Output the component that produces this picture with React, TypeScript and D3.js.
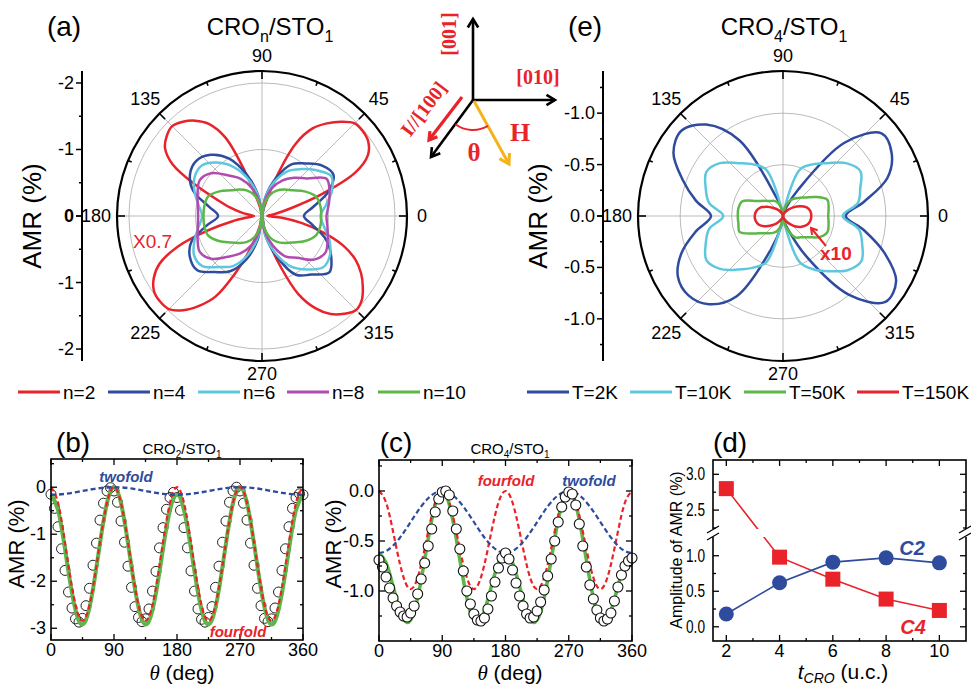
import React, { useRef, useEffect } from 'react';
import * as d3 from 'd3';

const RED = '#e8232a';
const NAVY = '#2f4b9d';
const CYAN = '#5ec7dd';
const PURPLE = '#b04cb0';
const GREEN = '#5db748';
const ORANGE = '#f6b319';
const GRID = '#a9a9a9';
const SANS = 'Arial, "Liberation Sans", Helvetica, sans-serif';
const SERIF = '"Times New Roman", "Liberation Serif", Times, serif';

// sampling grids (deg)
const angles10 = d3.range(0, 360, 10);
const angles5 = d3.range(0, 360, 5);
const theta5 = d3.range(0, 365, 5);
const theta10 = d3.range(0, 370, 10);

// (a) CRO_n/STO_1, |AMR| (%) vs angle
const ampN2 = [ // x0.7, 5 deg steps
  0.08, 0.12, 0.22, 0.45, 0.95, 1.55, 1.84, 1.95, 1.98, 1.97, 1.85, 1.70, 1.52, 1.20, 0.60, 0.18, 0.07, 0.03,
  0.00, 0.03, 0.08, 0.20, 0.60, 1.30, 1.60, 1.75, 1.85, 1.91, 1.87, 1.78, 1.55, 1.10, 0.72, 0.50, 0.32, 0.18,
  0.12, 0.20, 0.45, 0.85, 1.35, 1.70, 1.88, 1.98, 2.00, 1.98, 1.85, 1.65, 1.40, 0.95, 0.55, 0.25, 0.10, 0.04,
  0.00, 0.05, 0.15, 0.40, 0.80, 1.30, 1.60, 1.80, 1.92, 2.00, 1.96, 1.85, 1.72, 1.55, 1.30, 0.95, 0.60, 0.30,
];
const ampN4 = [
  0.63, 0.78, 1.06, 1.24, 1.18, 1.03, 0.90, 0.60, 0.28, 0.00, 0.30, 0.65, 1.00, 1.20, 1.29, 1.25, 1.10, 0.81,
  0.66, 0.85, 1.13, 1.25, 1.27, 1.10, 0.96, 0.70, 0.35, 0.00, 0.30, 0.65, 1.02, 1.15, 1.32, 1.20, 1.02, 0.77,
];
const ampN6 = [
  0.88, 0.98, 1.12, 1.20, 1.07, 0.92, 0.78, 0.55, 0.27, 0.00, 0.28, 0.58, 0.85, 1.05, 1.18, 1.17, 1.08, 0.97,
  0.90, 0.97, 1.08, 1.18, 1.17, 1.00, 0.87, 0.62, 0.30, 0.00, 0.30, 0.60, 0.88, 1.05, 1.20, 1.18, 1.08, 0.95,
];
const ampN8 = [
  0.97, 1.02, 1.08, 1.12, 0.88, 0.75, 0.62, 0.45, 0.22, 0.00, 0.22, 0.45, 0.65, 0.80, 1.00, 1.08, 1.03, 0.98,
  0.96, 0.98, 1.03, 1.08, 1.00, 0.80, 0.65, 0.47, 0.23, 0.00, 0.23, 0.47, 0.70, 0.82, 1.02, 1.10, 1.05, 1.00,
];
const ampN10 = [
  0.89, 0.89, 0.86, 0.74, 0.60, 0.52, 0.44, 0.33, 0.17, 0.00, 0.17, 0.33, 0.44, 0.52, 0.60, 0.74, 0.86, 0.88,
  0.88, 0.88, 0.86, 0.75, 0.62, 0.53, 0.45, 0.34, 0.17, 0.00, 0.17, 0.34, 0.45, 0.53, 0.62, 0.75, 0.86, 0.89,
];
const legendA = ['n=2', 'n=4', 'n=6', 'n=8', 'n=10'];

// (e) CRO_4/STO_1 at several temperatures
const ampT2 = [
  0.61, 0.80, 1.08, 1.22, 1.25, 0.93, 0.30, 0.09, 0.03, 0.00, 0.06, 0.20, 0.85, 1.16, 1.29, 1.23, 1.04, 0.86,
  0.70, 0.86, 1.05, 1.18, 1.20, 1.12, 0.90, 0.35, 0.10, 0.00, 0.04, 0.13, 0.45, 1.00, 1.30, 1.27, 1.05, 0.80,
];
const ampT10 = [
  0.58, 0.74, 0.80, 0.87, 0.80, 0.67, 0.58, 0.48, 0.07, 0.00, 0.07, 0.48, 0.58, 0.67, 0.80, 0.86, 0.80, 0.73,
  0.58, 0.73, 0.80, 0.86, 0.80, 0.68, 0.58, 0.48, 0.07, 0.00, 0.07, 0.48, 0.60, 0.70, 0.82, 0.88, 0.82, 0.75,
];
const ampT50 = [
  0.44, 0.45, 0.46, 0.37, 0.28, 0.23, 0.19, 0.14, 0.07, 0.00, 0.06, 0.13, 0.17, 0.19, 0.23, 0.29, 0.42, 0.44,
  0.44, 0.44, 0.45, 0.34, 0.26, 0.22, 0.19, 0.15, 0.07, 0.00, 0.07, 0.15, 0.24, 0.27, 0.32, 0.41, 0.46, 0.45,
];
const ampT150 = [ // x10
  0.275, 0.27, 0.245, 0.19, 0.13, 0.08, 0.05, 0.025, 0.01, 0.00, 0.01, 0.025, 0.05, 0.08, 0.12, 0.18, 0.235, 0.265,
  0.275, 0.27, 0.25, 0.20, 0.14, 0.09, 0.05, 0.025, 0.01, 0.00, 0.01, 0.03, 0.06, 0.10, 0.16, 0.21, 0.25, 0.27,
];
const legendE = ['T=2K', 'T=10K', 'T=50K', 'T=150K'];

// (b) CRO2/STO1 AMR(theta), data every 5 deg, fits every 10 deg
const amrB = [
  -0.15, -0.45, -0.84, -1.31, -1.77, -2.23, -2.57, -2.80, -2.87, -2.79, -2.52, -2.15, -1.66, -1.19, -0.70, -0.34, -0.08, -0.01,
  -0.08, -0.32, -0.72, -1.17, -1.68, -2.13, -2.54, -2.77, -2.86, -2.80, -2.59, -2.21, -1.79, -1.29, -0.86, -0.47, -0.22, -0.11,
  -0.22, -0.49, -0.86, -1.29, -1.78, -2.21, -2.59, -2.81, -2.87, -2.77, -2.54, -2.13, -1.68, -1.17, -0.72, -0.32, -0.08, 0.00,
  -0.08, -0.34, -0.70, -1.19, -1.66, -2.15, -2.52, -2.79, -2.86, -2.80, -2.57, -2.23, -1.77, -1.31, -0.84, -0.45, -0.22, -0.14,
  -0.16,
];
const twofoldB = [
  -0.16, -0.155, -0.141, -0.12, -0.094, -0.066, -0.04, -0.019, -0.005, 0, -0.005, -0.019, -0.04, -0.066, -0.094, -0.12, -0.141, -0.155,
  -0.16, -0.155, -0.141, -0.12, -0.094, -0.066, -0.04, -0.019, -0.005, 0, -0.005, -0.019, -0.04, -0.066, -0.094, -0.12, -0.141, -0.155, -0.16,
];
const fourfoldB = [
  0, -0.332, -1.173, -2.13, -2.755, -2.755, -2.13, -1.173, -0.332, 0, -0.332, -1.173, -2.13, -2.755, -2.755, -2.13, -1.173, -0.332,
  0, -0.332, -1.173, -2.13, -2.755, -2.755, -2.13, -1.173, -0.332, 0, -0.332, -1.173, -2.13, -2.755, -2.755, -2.13, -1.173, -0.332, 0,
];
const fitB = [
  -0.16, -0.487, -1.314, -2.25, -2.849, -2.821, -2.17, -1.192, -0.337, 0, -0.337, -1.192, -2.17, -2.821, -2.849, -2.25, -1.314, -0.487,
  -0.16, -0.487, -1.314, -2.25, -2.849, -2.821, -2.17, -1.192, -0.337, 0, -0.337, -1.192, -2.17, -2.821, -2.849, -2.25, -1.314, -0.487, -0.16,
];

// (c) CRO4/STO1
const amrC = [
  -0.69, -0.76, -0.86, -0.97, -1.07, -1.15, -1.21, -1.25, -1.26, -1.22, -1.15, -1.03, -0.88, -0.72, -0.55, -0.38, -0.21, -0.08,
  -0.01, 0.00, -0.04, -0.20, -0.38, -0.58, -0.80, -1.00, -1.13, -1.23, -1.29, -1.30, -1.27, -1.18, -1.05, -0.91, -0.77, -0.67,
  -0.62, -0.68, -0.79, -0.92, -1.05, -1.15, -1.23, -1.27, -1.26, -1.20, -1.11, -0.99, -0.85, -0.68, -0.50, -0.31, -0.16, -0.06,
  -0.01, -0.03, -0.14, -0.33, -0.55, -0.76, -0.94, -1.08, -1.19, -1.27, -1.30, -1.28, -1.22, -1.10, -0.96, -0.84, -0.75, -0.70,
  -0.67,
];
const twofoldC = [
  -0.62, -0.601, -0.547, -0.465, -0.364, -0.256, -0.155, -0.073, -0.019, 0, -0.019, -0.073, -0.155, -0.256, -0.364, -0.465, -0.547, -0.601,
  -0.62, -0.601, -0.547, -0.465, -0.364, -0.256, -0.155, -0.073, -0.019, 0, -0.019, -0.073, -0.155, -0.256, -0.364, -0.465, -0.547, -0.601, -0.62,
];
const fourfoldC = [
  0, -0.115, -0.405, -0.735, -0.951, -0.951, -0.735, -0.405, -0.115, 0, -0.115, -0.405, -0.735, -0.951, -0.951, -0.735, -0.405, -0.115,
  0, -0.115, -0.405, -0.735, -0.951, -0.951, -0.735, -0.405, -0.115, 0, -0.115, -0.405, -0.735, -0.951, -0.951, -0.735, -0.405, -0.115, 0,
];
const fitC = [
  -0.62, -0.716, -0.952, -1.20, -1.315, -1.207, -0.89, -0.478, -0.134, 0, -0.134, -0.478, -0.89, -1.207, -1.315, -1.20, -0.952, -0.716,
  -0.62, -0.716, -0.952, -1.20, -1.315, -1.207, -0.89, -0.478, -0.134, 0, -0.134, -0.478, -0.89, -1.207, -1.315, -1.20, -0.952, -0.716, -0.62,
];

// (d) amplitudes vs thickness
const tCRO = [2, 4, 6, 8, 10];
const c2Amp = [0.18, 0.62, 0.91, 0.97, 0.90];
const c4Amp = [2.80, 0.98, 0.67, 0.39, 0.23];

type G = d3.Selection<SVGGElement, unknown, null, undefined>;

const txt = (g: any, x: number, y: number, s: string, size: number, anchor = 'middle', extra: any = {}) => {
  const t = g.append('text').attr('x', x).attr('y', y).attr('font-family', SANS)
    .attr('font-size', size).attr('text-anchor', anchor).text(s);
  Object.entries(extra).forEach(([k, v]) => t.attr(k, v as any));
  return t;
};

function polar(root: G, cfg: any) {
  const { cx, cy, R, max, grid, axisX, major, minor, fmt, series, labR } = cfg;
  const r = d3.scaleLinear().domain([0, max]).range([0, R]);
  const g = root.append('g').attr('transform', `translate(${cx},${cy})`);
  grid.forEach((v: number) => g.append('circle').attr('r', r(v)).attr('fill', 'none').attr('stroke', GRID).attr('stroke-width', 0.8));
  d3.range(0, 360, 45).forEach(a => {
    const t = (a * Math.PI) / 180;
    g.append('line').attr('x1', 0).attr('y1', 0).attr('x2', R * Math.cos(t)).attr('y2', -R * Math.sin(t))
      .attr('stroke', GRID).attr('stroke-width', 0.8);
  });
  series.forEach((s: any) => {
    const line = d3.lineRadial<[number, number]>()
      .angle(d => Math.PI / 2 - (d[0] * Math.PI) / 180)
      .radius(d => r(d[1]))
      .curve(d3.curveCatmullRomClosed.alpha(0.5));
    g.append('path').attr('d', line(s.angles.map((a: number, i: number) => [a, s.values[i]])) as string)
      .attr('fill', 'none').attr('stroke', s.color).attr('stroke-width', 2.5).attr('stroke-linejoin', 'round');
  });
  g.append('circle').attr('r', R).attr('fill', 'none').attr('stroke', '#000').attr('stroke-width', 2.2);
  d3.range(0, 360, 22.5).forEach(a => {
    const t = (a * Math.PI) / 180;
    const len = a % 45 === 0 ? 8 : 4;
    g.append('line').attr('x1', (R - len) * Math.cos(t)).attr('y1', -(R - len) * Math.sin(t))
      .attr('x2', R * Math.cos(t)).attr('y2', -R * Math.sin(t)).attr('stroke', '#000').attr('stroke-width', 1.6);
  });
  d3.range(0, 360, 45).forEach(a => {
    const t = (a * Math.PI) / 180;
    let lr = a % 90 === 0 ? labR : labR + 5;
    if (a === 180) lr = labR + 6;
    if (a === 270) lr = labR - 2;
    txt(g, lr * Math.cos(t), -lr * Math.sin(t) + 6, String(a), 18);
  });
  // radial axis
  const ax = root.append('g');
  ax.append('line').attr('x1', axisX).attr('x2', axisX).attr('y1', cy - R).attr('y2', cy + R).attr('stroke', '#000').attr('stroke-width', 2);
  [...major.map((v: number) => [v, 6]), ...minor.map((v: number) => [v, 3])].forEach(([v, len]: number[]) => {
    [1, -1].forEach(sg => {
      const y = cy - sg * r(v);
      ax.append('line').attr('x1', axisX - len).attr('x2', axisX).attr('y1', y).attr('y2', y).attr('stroke', '#000').attr('stroke-width', 1.5);
    });
  });
  major.forEach((v: number) => {
    [1, -1].forEach(sg => {
      if (v === 0 && sg === -1) return;
      const t = txt(ax, axisX - 8, cy - sg * r(v) + 6, fmt(v), 18, 'end');
      if (v === 0 && cfg.boldZero) t.attr('font-weight', 'bold');
    });
  });
}

function legendRow(root: G, items: string[], colors: string[], xs: number[], y: number) {
  items.forEach((s, i) => {
    root.append('line').attr('x1', xs[i]).attr('x2', xs[i] + 42).attr('y1', y).attr('y2', y)
      .attr('stroke', colors[i]).attr('stroke-width', 3);
    txt(root, xs[i] + 45, y + 7, s, 19, 'start');
  });
}

function frame(root: G, x: any, y: any, xMaj: number[], xMin: number[], yMaj: number[], yMin: number[], fmt: (v: number) => string) {
  const [x0, x1] = x.range();
  const [y0, y1] = y.range();
  root.append('rect').attr('x', x0).attr('y', y1).attr('width', x1 - x0).attr('height', y0 - y1)
    .attr('fill', 'none').attr('stroke', '#000').attr('stroke-width', 1.6);
  const tk = (x1_: number, y1_: number, x2_: number, y2_: number) =>
    root.append('line').attr('x1', x1_).attr('y1', y1_).attr('x2', x2_).attr('y2', y2_).attr('stroke', '#000').attr('stroke-width', 1.3);
  [...xMaj.map(v => [v, 6]), ...xMin.map(v => [v, 3])].forEach(([v, l]) => {
    tk(x(v), y0, x(v), y0 - l); tk(x(v), y1, x(v), y1 + l);
  });
  [...yMaj.map(v => [v, 6]), ...yMin.map(v => [v, 3])].forEach(([v, l]) => {
    tk(x0, y(v), x0 + l, y(v)); tk(x1, y(v), x1 - l, y(v));
  });
  xMaj.forEach(v => txt(root, x(v), y0 + 16, String(v), 18));
  yMaj.forEach(v => txt(root, x0 - 5, y(v) + 6, fmt(v), 18, 'end'));
}

function sub(root: G, x: number, y: number, parts: [string, boolean][], size: number, subSize: number) {
  const t = root.append('text').attr('x', x).attr('y', y).attr('font-family', SANS).attr('font-size', size).attr('text-anchor', 'middle');
  let down = false;
  parts.forEach(([s, isSub]) => {
    const ts = t.append('tspan').text(s).attr('font-size', isSub ? subSize : size);
    if (isSub && !down) { ts.attr('dy', size * 0.28); down = true; }
    else if (!isSub && down) { ts.attr('dy', -size * 0.28); down = false; }
  });
  return t;
}

function arrowHead(g: any, x1: number, y1: number, x2: number, y2: number, color: string, w: number, len = 10) {
  const a = Math.atan2(y2 - y1, x2 - x1);
  const p = (da: number) => [x2 - len * Math.cos(a + da), y2 - len * Math.sin(a + da)];
  const [l, r] = [p(0.55), p(-0.55)];
  g.append('line').attr('x1', x1).attr('y1', y1).attr('x2', x2).attr('y2', y2).attr('stroke', color).attr('stroke-width', w);
  g.append('path').attr('d', `M${l[0]},${l[1]}L${x2},${y2}L${r[0]},${r[1]}`).attr('fill', 'none')
    .attr('stroke', color).attr('stroke-width', w).attr('stroke-linejoin', 'miter');
}

export default function App() {
  const svgRef = useRef<SVGSVGElement>(null);

  useEffect(() => {
    if (!svgRef.current) return;
    const svg = d3.select(svgRef.current);
    svg.selectAll('*').remove();
    const root = svg.append('g') as unknown as G;

    // ---------- (a)
    polar(root, {
      cx: 262, cy: 216, R: 145, max: 2.18, grid: [1, 2], axisX: 82, labR: 160,
      major: [0, 1, 2], minor: [0.5, 1.5], fmt: (v: number) => (v === 0 ? '0' : `-${v}`), boldZero: true,
      series: [
        { angles: angles5, values: ampN2, color: RED },
        { angles: angles10, values: ampN4, color: NAVY },
        { angles: angles10, values: ampN6, color: CYAN },
        { angles: angles10, values: ampN8, color: PURPLE },
        { angles: angles10, values: ampN10, color: GREEN },
      ],
    });
    txt(root, 64, 36, '(a)', 28);
    sub(root, 270, 35, [['CRO', false], ['n', true], ['/STO', false], ['1', true]], 24, 16);
    txt(root, 0, 0, 'AMR (%)', 26, 'middle', { transform: 'translate(41,216) rotate(-90)' });
    txt(root, 133, 248, 'X0.7', 19, 'start', { fill: RED });
    legendRow(root, legendA, [RED, NAVY, CYAN, PURPLE, GREEN], [18, 108, 198, 287, 378], 392);

    // ---------- (e)
    polar(root, {
      cx: 783, cy: 216, R: 145, max: 1.41, grid: [0.5, 1.0], axisX: 603, labR: 160,
      major: [0, 0.5, 1.0], minor: [0.25, 0.75, 1.25], fmt: (v: number) => (v === 0 ? '0.0' : `-${v.toFixed(1)}`),
      series: [
        { angles: angles10, values: ampT2, color: NAVY },
        { angles: angles10, values: ampT10, color: CYAN },
        { angles: angles10, values: ampT50, color: GREEN },
        { angles: angles10, values: ampT150, color: RED },
      ],
    });
    txt(root, 585, 36, '(e)', 28);
    sub(root, 784, 35, [['CRO', false], ['4', true], ['/STO', false], ['1', true]], 24, 16);
    txt(root, 0, 0, 'AMR (%)', 26, 'middle', { transform: 'translate(547,216) rotate(-90)' });
    arrowHead(root, 826, 246, 811, 228, RED, 2, 7);
    txt(root, 820, 260, 'x10', 19, 'start', { fill: RED, 'font-weight': 'bold' });
    legendRow(root, legendE, [NAVY, CYAN, GREEN, RED], [527, 630, 744, 857], 392);

    // ---------- geometry sketch
    const sk = root.append('g');
    const O = [473, 100];
    arrowHead(sk, O[0], O[1], 473, 19, '#000', 2.6);
    arrowHead(sk, O[0], O[1], 555, 100, '#000', 2.6);
    arrowHead(sk, O[0], O[1], 431, 157, '#000', 2.6);
    arrowHead(sk, 462, 97, 429, 140, RED, 3.2, 9);
    arrowHead(sk, O[0] + 1, O[1] + 1, 509, 164, ORANGE, 3, 11);
    const arc = d3.arc()({ innerRadius: 30, outerRadius: 30, startAngle: (150 * Math.PI) / 180, endAngle: (216 * Math.PI) / 180 } as any);
    sk.append('path').attr('d', arc as string).attr('transform', `translate(${O[0]},${O[1]})`).attr('fill', 'none').attr('stroke', RED).attr('stroke-width', 2);
    const serif = (x: number, y: number, s: string, size: number, rot = 0) =>
      txt(sk, 0, 0, s, size, 'middle', { transform: `translate(${x},${y}) rotate(${rot})`, fill: RED, 'font-weight': 'bold' }).attr('font-family', SERIF);
    serif(538, 84, '[010]', 20);
    serif(456, 34, '[001]', 20, -90);
    serif(429, 113, 'I//[100]', 20, -53);
    serif(520, 141, 'H', 26);
    serif(474, 161, 'θ', 25);

    // ---------- (b)
    const xb = d3.scaleLinear().domain([0, 360]).range([51, 303]);
    const yb = d3.scaleLinear().domain([-3.25, 0.6]).range([640, 459]);
    const gb = root.append('g') as unknown as G;
    gb.selectAll('circle.d').data(amrB).join('circle').attr('cx', (_, i) => xb(theta5[i])).attr('cy', d => yb(d))
      .attr('r', 5).attr('fill', 'none').attr('stroke', '#222').attr('stroke-width', 1);
    const lineB = (vals: number[]) => d3.line<number>().x((_, i) => xb(theta10[i])).y(d => yb(d)).curve(d3.curveNatural)(vals) as string;
    gb.append('path').attr('d', lineB(fitB)).attr('fill', 'none').attr('stroke', GREEN).attr('stroke-width', 4);
    gb.append('path').attr('d', lineB(fourfoldB)).attr('fill', 'none').attr('stroke', RED).attr('stroke-width', 2.2).attr('stroke-dasharray', '5,3');
    gb.append('path').attr('d', lineB(twofoldB)).attr('fill', 'none').attr('stroke', NAVY).attr('stroke-width', 2.4).attr('stroke-dasharray', '5,3');
    frame(gb, xb, yb, [0, 90, 180, 270, 360], [45, 135, 225, 315], [0, -1, -2, -3], [0.5, -0.5, -1.5, -2.5], v => String(v));
    txt(gb, 73, 452, '(b)', 28);
    sub(gb, 182, 454, [['CRO', false], ['2', true], ['/STO', false], ['1', true]], 15, 10);
    txt(gb, 126, 482, 'twofold', 15, 'middle', { fill: NAVY, 'font-weight': 'bold', 'font-style': 'italic' });
    txt(gb, 238, 637, 'fourfold', 15, 'middle', { fill: RED, 'font-weight': 'bold', 'font-style': 'italic' });
    txt(gb, 0, 0, 'AMR (%)', 22, 'middle', { transform: 'translate(24,544) rotate(-90)' });
    const xtB = txt(gb, 182, 680, '', 21);
    xtB.append('tspan').text('θ').attr('font-family', SERIF).attr('font-style', 'italic');
    xtB.append('tspan').text(' (deg)');

    // ---------- (c)
    const xc = d3.scaleLinear().domain([0, 360]).range([379, 632]);
    const yc = d3.scaleLinear().domain([-1.5, 0.31]).range([641, 460]);
    const gc = root.append('g') as unknown as G;
    const lineC = (vals: number[]) => d3.line<number>().x((_, i) => xc(theta10[i])).y(d => yc(d)).curve(d3.curveNatural)(vals) as string;
    gc.append('path').attr('d', lineC(fitC)).attr('fill', 'none').attr('stroke', GREEN).attr('stroke-width', 3.6);
    gc.append('path').attr('d', lineC(fourfoldC)).attr('fill', 'none').attr('stroke', RED).attr('stroke-width', 2.2).attr('stroke-dasharray', '5,3');
    gc.append('path').attr('d', lineC(twofoldC)).attr('fill', 'none').attr('stroke', NAVY).attr('stroke-width', 2.2).attr('stroke-dasharray', '5,3');
    gc.selectAll('circle.d').data(amrC).join('circle').attr('cx', (_, i) => xc(theta5[i])).attr('cy', d => yc(d))
      .attr('r', 5).attr('fill', '#fff').attr('stroke', '#111').attr('stroke-width', 1.1);
    frame(gc, xc, yc, [0, 90, 180, 270, 360], [45, 135, 225, 315], [0, -0.5, -1.0], [0.25, -0.25, -0.75, -1.25], v => v.toFixed(1));
    txt(gc, 396, 452, '(c)', 28);
    sub(gc, 510, 454, [['CRO', false], ['4', true], ['/STO', false], ['1', true]], 15, 10);
    txt(gc, 506, 486, 'fourfold', 15, 'middle', { fill: RED, 'font-weight': 'bold', 'font-style': 'italic' });
    txt(gc, 589, 486, 'twofold', 15, 'middle', { fill: NAVY, 'font-weight': 'bold', 'font-style': 'italic' });
    txt(gc, 0, 0, 'AMR (%)', 22, 'middle', { transform: 'translate(341,544) rotate(-90)' });
    const xtC = txt(gc, 510, 680, '', 21);
    xtC.append('tspan').text('θ').attr('font-family', SERIF).attr('font-style', 'italic');
    xtC.append('tspan').text(' (deg)');

    // ---------- (d) broken y axis
    const xd = d3.scaleLinear().domain([1.5, 11]).range([713, 966]);
    const yLow = d3.scaleLinear().domain([-0.2, 1.32]).range([641, 533]);
    const yHigh = d3.scaleLinear().domain([2.18, 3.2]).range([533, 460]);
    const yd = (v: number) => (v > 1.5 ? yHigh(v) : yLow(v));
    const gd = root.append('g') as unknown as G;
    gd.append('rect').attr('x', 713).attr('y', 460).attr('width', 253).attr('height', 181).attr('fill', 'none').attr('stroke', '#000').attr('stroke-width', 1.6);
    const tk = (a: number, b: number, c: number, d: number) =>
      gd.append('line').attr('x1', a).attr('y1', b).attr('x2', c).attr('y2', d).attr('stroke', '#000').attr('stroke-width', 1.3);
    [2, 4, 6, 8, 10].forEach(v => { tk(xd(v), 641, xd(v), 635); tk(xd(v), 460, xd(v), 466); txt(gd, xd(v), 657, String(v), 18); });
    [3, 5, 7, 9].forEach(v => { tk(xd(v), 641, xd(v), 638); tk(xd(v), 460, xd(v), 463); });
    [0, 0.5, 1.0, 2.5, 3.0].forEach(v => {
      tk(713, yd(v), 719, yd(v)); tk(966, yd(v), 960, yd(v));
      txt(gd, 705, yd(v) + 6, v.toFixed(1), 18, 'end', { textLength: 19, lengthAdjust: 'spacingAndGlyphs' });
    });
    [0.25, 0.75, 2.25, 2.75].forEach(v => { tk(713, yd(v), 716, yd(v)); tk(966, yd(v), 963, yd(v)); });
    const lineD = d3.line<number>().x((_, i) => xd(tCRO[i])).y(d => yd(d));
    gd.append('path').attr('d', lineD(c4Amp) as string).attr('fill', 'none').attr('stroke', RED).attr('stroke-width', 1.6);
    gd.append('path').attr('d', lineD(c2Amp) as string).attr('fill', 'none').attr('stroke', NAVY).attr('stroke-width', 1.6);
    // axis break
    gd.append('rect').attr('x', 700).attr('y', 529).attr('width', 271).attr('height', 8).attr('fill', '#fff');
    [[707, 719], [959, 971]].forEach(([a, b]) => {
      tk(a, 533, b, 526); tk(a, 540, b, 533);
    });
    gd.selectAll('rect.sq').data(c4Amp).join('rect').attr('class', 'sq')
      .attr('x', (_, i) => xd(tCRO[i]) - 7.5).attr('y', d => yd(d) - 7.5).attr('width', 15).attr('height', 15).attr('fill', RED);
    gd.selectAll('circle.c2').data(c2Amp).join('circle').attr('class', 'c2')
      .attr('cx', (_, i) => xd(tCRO[i])).attr('cy', d => yd(d)).attr('r', 7.5).attr('fill', NAVY);
    txt(gd, 730, 452, '(d)', 28);
    txt(gd, 912, 555, 'C2', 20, 'middle', { fill: NAVY, 'font-weight': 'bold', 'font-style': 'italic' });
    txt(gd, 913, 634, 'C4', 20, 'middle', { fill: RED, 'font-weight': 'bold', 'font-style': 'italic' });
    txt(gd, 0, 0, 'Amplitude of AMR (%)', 16, 'middle', { transform: 'translate(682,550) rotate(-90)' });
    const xtD = txt(gd, 843, 679, '', 21);
    xtD.append('tspan').text('t').attr('font-style', 'italic');
    xtD.append('tspan').text('CRO').attr('font-style', 'italic').attr('font-size', 14).attr('dy', 4);
    xtD.append('tspan').text(' (u.c.)').attr('dy', -4);
  }, []);

  return (
    <svg ref={svgRef} width={971} height={686}
      style={{ position: 'absolute', left: 0, top: 0, background: '#fff' }} />
  );
}
